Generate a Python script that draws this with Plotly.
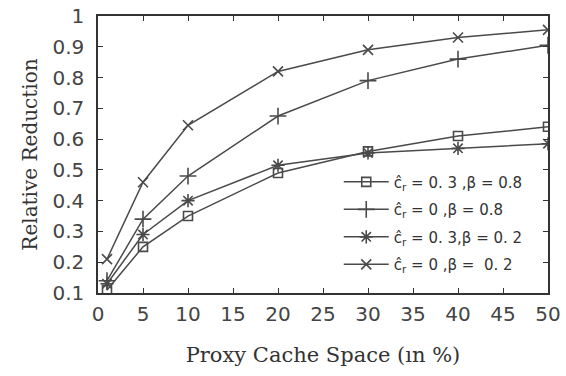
import plotly.graph_objects as go

x_vals = [1, 5, 10, 20, 30, 40, 50]
s_sq = [0.11, 0.25, 0.35, 0.49, 0.56, 0.61, 0.64]      # c=0.3, beta=0.8
s_plus = [0.14, 0.34, 0.48, 0.675, 0.79, 0.86, 0.905]  # c=0, beta=0.8
s_star = [0.13, 0.29, 0.40, 0.515, 0.555, 0.57, 0.585] # c=0.3, beta=0.2
s_x = [0.21, 0.46, 0.645, 0.82, 0.89, 0.93, 0.955]     # c=0, beta=0.2

names = ["ĉ<sub>r</sub> = 0. 3 ,β = 0.8",
         "ĉ<sub>r</sub> = 0 ,β = 0.8",
         "ĉ<sub>r</sub> = 0. 3,β = 0. 2",
         "ĉ<sub>r</sub> = 0 ,β =  0. 2"]
series = [s_sq, s_plus, s_star, s_x]
symbols = ["square-open", "cross-thin-open", "asterisk-open", "x-thin-open"]
sizes = [9, 12, 11, 10]

x_ticks = list(range(0, 51, 5))
y_ticks = [0.1, 0.2, 0.3, 0.4, 0.5, 0.6, 0.7, 0.8, 0.9, 1.0]
y_text = ["0.1", "0.2", "0.3", "0.4", "0.5", "0.6", "0.7", "0.8", "0.9", "1"]

col = "#4a4a4a"
fig = go.Figure()
for i, (nm, ys, sym, sz) in enumerate(zip(names, series, symbols, sizes)):
    fig.add_trace(go.Scatter(
        x=x_vals, y=ys, name=nm, mode="lines+markers", legendgroup=f"g{i}",
        line=dict(color=col, width=1.5),
        marker=dict(symbol=sym, size=sz, color=col, line=dict(color="#111", width=1.6)),
    ))

axis_common = dict(showline=True, linecolor="#333", linewidth=1.5, mirror="ticks",
                   ticks="inside", ticklen=5, tickcolor="#333", showgrid=False,
                   zeroline=False, automargin=False,
                   tickfont=dict(family="DejaVu Sans", size=20, color="#444"))
fig.update_layout(
    width=566, height=376,
    margin=dict(l=98, r=18, t=16, b=83),
    paper_bgcolor="white", plot_bgcolor="white",
    showlegend=True,
    legend=dict(x=0.535, y=0.46, xanchor="left", yanchor="top",
                font=dict(family="DejaVu Sans", size=15, color="#333"),
                bgcolor="rgba(0,0,0,0)", itemwidth=45, tracegroupgap=5),
    xaxis=dict(range=[0, 50], tickvals=x_ticks, ticktext=[str(v) for v in x_ticks],
               ticklabelstandoff=2,
               title=dict(text="Proxy Cache Space (ın %)", font=dict(family="DejaVu Serif", size=21, color="#333"), standoff=23),
               **axis_common),
    yaxis=dict(range=[0.1, 1], tickvals=y_ticks, ticktext=y_text,
               ticklabelstandoff=8,
               title=dict(text="Relative Reduction", font=dict(family="DejaVu Serif", size=20, color="#333"), standoff=9),
               **axis_common),
)
fig.write_html("out.html", config={"displayModeBar": False},
               post_script="document.body.style.margin='0';")
